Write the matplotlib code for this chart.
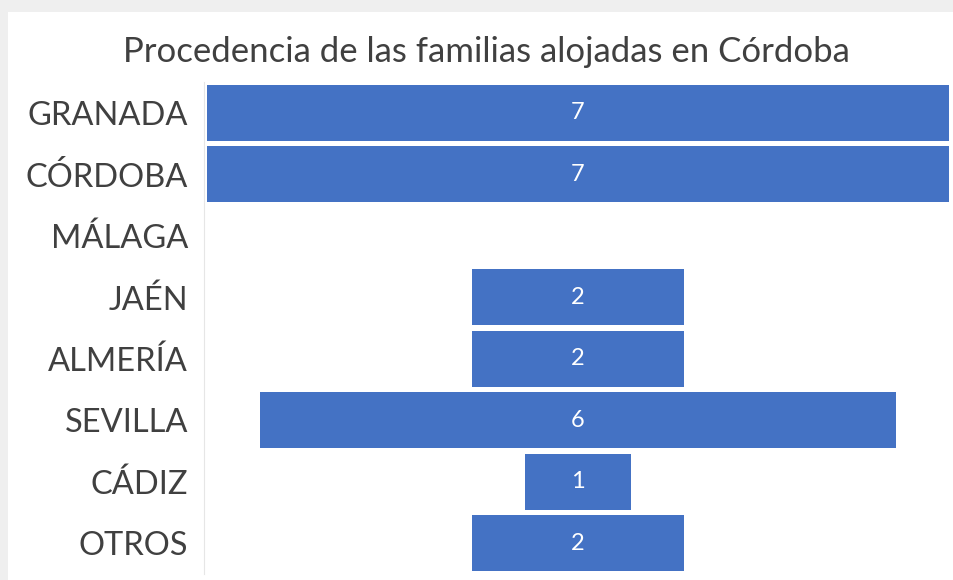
import matplotlib
matplotlib.use("Agg")
import matplotlib.pyplot as plt

categories = ["GRANADA", "CÓRDOBA", "MÁLAGA", "JAÉN", "ALMERÍA", "SEVILLA", "CÁDIZ", "OTROS"]
values = [7, 7, 0, 2, 2, 6, 1, 2]
title = "Procedencia de las familias alojadas en Córdoba"

plt.rcParams['font.family'] = ['Lato', 'DejaVu Sans']

fig = plt.figure(figsize=(9.54, 5.8), dpi=100, facecolor="#efefef")
bg = fig.add_axes([8/954, 0, 1, 1 - 12/580], zorder=-1)
bg.set_facecolor("white")
bg.set_xticks([]); bg.set_yticks([])
for s in bg.spines.values():
    s.set_visible(False)

ax = fig.add_axes([207/954, 1 - 574/580, 742/954, (574 - 82)/580], zorder=1)
ax.set_facecolor("none")
ys = list(range(len(categories)))
lefts = [-v / 2 for v in values]
ax.barh(ys, values, left=lefts, height=0.91, color="#4472c4")
for y, v in zip(ys, values):
    if v > 0:
        ax.text(0, y, str(v), ha="center", va="center", color="white", fontsize=17)

ax.set_xlim(-3.5, 3.5)
ax.set_ylim(len(categories) - 0.5, -0.5)
ax.set_yticks(ys)
ax.set_yticklabels(categories)
ax.tick_params(axis="y", length=0, pad=11.5, labelsize=23.5, labelcolor="#404040")
ax.set_xticks([])
for s in ["top", "right", "bottom"]:
    ax.spines[s].set_visible(False)
ax.spines["left"].set_color("#e6e6e6")
ax.spines["left"].set_position(("outward", 2))

fig.text(486/954, 1 - 52/580, title, ha="center", va="center", fontsize=25, color="#404040")

fig.savefig("out.png", dpi=100, facecolor=fig.get_facecolor())
